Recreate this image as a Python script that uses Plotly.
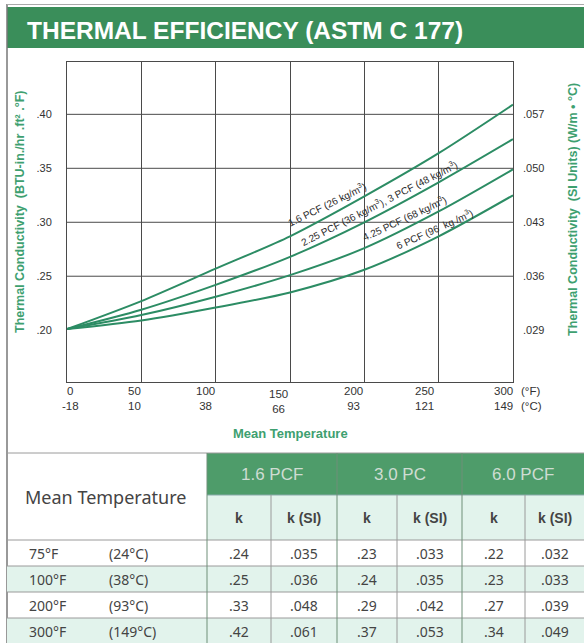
import plotly.graph_objects as go

# ---------------- data ----------------
temp_f = [0, 50, 100, 150, 200, 250, 300]
temp_c = [-18, 10, 38, 66, 93, 121, 149]
k_16 = [0.201, 0.227, 0.257, 0.287, 0.324, 0.364, 0.409]
k_225_3 = [0.201, 0.219, 0.242, 0.268, 0.300, 0.337, 0.377]
k_425 = [0.201, 0.214, 0.231, 0.251, 0.276, 0.310, 0.349]
k_6 = [0.201, 0.209, 0.221, 0.235, 0.256, 0.287, 0.325]

y_ticks = [0.20, 0.25, 0.30, 0.35, 0.40]
y_ticktext = [".20", ".25", ".30", ".35", ".40"]
y2_ticktext = [".029", ".036", ".043", ".050", ".057"]
grid_y = [0.25, 0.30, 0.35, 0.40]

curve_labels = ["1.6 PCF (26 kg/m<sup>3</sup>)",
                "2.25 PCF (36 kg/m<sup>3</sup>), 3 PCF (48 kg/m<sup>3</sup>)",
                "4.25 PCF (68 kg/m<sup>3</sup>)",
                "6 PCF (96  kg /m<sup>3</sup>)"]
label_x = [175, 210, 227, 247]
label_y = [0.317, 0.318, 0.3035, 0.294]
label_angle = [-26, -27, -25, -24]

# table data
tbl_groups = ["1.6 PCF", "3.0 PC", "6.0 PCF"]
tbl_sub = ["k", "k (SI)"]
rows_f = ["75°F", "100°F", "200°F", "300°F"]
rows_c = ["(24°C)", "(38°C)", "(93°C)", "(149°C)"]
k16 = [".24", ".25", ".33", ".42"]
k16_si = [".035", ".036", ".048", ".061"]
k30 = [".23", ".24", ".29", ".37"]
k30_si = [".033", ".035", ".042", ".053"]
k60 = [".22", ".23", ".27", ".34"]
k60_si = [".032", ".033", ".039", ".049"]
tbl_cols = [k16, k16_si, k30, k30_si, k60, k60_si]

# ---------------- styling ----------------
W, H = 584, 643
def px(x):
    return x / W
def py(y):
    return 1 - y / H

CURVE = "rgb(44,140,100)"
TITLE_GREEN = "rgb(58,142,90)"
HEAD_GREEN = "rgb(78,156,106)"
LIGHT_GREEN = "rgb(226,243,236)"
AXIS_GREEN = "rgb(62,160,112)"
GRID = "#4a4a4a"
TXT = "#333333"
SANS = "Liberation Sans, Arial, sans-serif"
NARROW = "Liberation Sans Narrow, Liberation Sans, Arial, sans-serif"
TSANS = "Noto Sans, Open Sans, sans-serif"

fig = go.Figure()
for ys in [k_16, k_225_3, k_425, k_6]:
    fig.add_trace(go.Scatter(x=temp_f, y=ys, mode="lines",
                             line=dict(color=CURVE, width=2, shape="spline", smoothing=0.8),
                             hoverinfo="skip", showlegend=False))
# invisible trace to activate right axis
fig.add_trace(go.Scatter(x=[temp_f[0]], y=[y_ticks[0]], yaxis="y2", mode="markers",
                         marker=dict(opacity=0), hoverinfo="skip", showlegend=False))

yr = [0.152, 0.4485]
fig.update_layout(
    width=W, height=H, margin=dict(l=0, r=0, t=0, b=0),
    paper_bgcolor="white", plot_bgcolor="white",
    xaxis=dict(domain=[px(67), px(513)], range=[0, 300], tickvals=temp_f,
               showticklabels=False, showgrid=True, gridcolor=GRID, gridwidth=1,
               showline=True, linecolor=GRID, linewidth=1, mirror=True,
               zeroline=False, ticks=""),
    yaxis=dict(domain=[py(382), py(62)], range=yr, tickvals=y_ticks, ticktext=y_ticktext,
               showgrid=False, showline=True, linecolor=GRID, linewidth=1, mirror=True,
               zeroline=False, ticks="", ticklabelstandoff=12,
               tickfont=dict(family=SANS, size=11, color=TXT)),
    yaxis2=dict(overlaying="y", side="right", range=yr, tickvals=y_ticks, ticktext=y2_ticktext,
                showgrid=False, showline=False, zeroline=False, ticks="", ticklabelstandoff=9,
                tickfont=dict(family=SANS, size=11, color=TXT)),
)

shapes = []
for g in grid_y:
    shapes.append(dict(type="line", xref="x", yref="y", x0=temp_f[0], x1=temp_f[-1], y0=g, y1=g,
                       line=dict(color=GRID, width=1), layer="below"))

# title bar & frame
shapes.append(dict(type="rect", xref="paper", yref="paper", x0=px(7), x1=px(584), y0=py(48), y1=py(7),
                   fillcolor=TITLE_GREEN, line=dict(width=0), layer="below"))
shapes.append(dict(type="line", xref="paper", yref="paper", x0=px(7), x1=px(7), y0=0, y1=py(4),
                   line=dict(color="#777", width=1.5)))
shapes.append(dict(type="line", xref="paper", yref="paper", x0=px(7), x1=px(584), y0=py(4.5), y1=py(4.5),
                   line=dict(color="#aaa", width=1)))

# table geometry
col_edges = [7, 207, 271, 337, 397, 462, 525, 584]
tbl_top, head1_bot, head2_bot = 453, 495, 540
row_edges = [540, 566, 592, 618, 644]

shapes.append(dict(type="rect", xref="paper", yref="paper", x0=px(col_edges[1]), x1=px(584),
                   y0=py(head1_bot), y1=py(tbl_top), fillcolor=HEAD_GREEN, line=dict(width=0)))
shapes.append(dict(type="rect", xref="paper", yref="paper", x0=px(col_edges[1]), x1=px(584),
                   y0=py(head2_bot), y1=py(head1_bot), fillcolor=LIGHT_GREEN, line=dict(width=0)))
for i in range(len(rows_f)):
    if i % 2 == 1:
        shapes.append(dict(type="rect", xref="paper", yref="paper", x0=px(7), x1=px(584),
                           y0=py(row_edges[i + 1]), y1=py(row_edges[i]), fillcolor=LIGHT_GREEN,
                           line=dict(width=0)))
LINE = dict(color="#9a9a9a", width=1)
for yv in [tbl_top] + row_edges[:-1]:
    shapes.append(dict(type="line", xref="paper", yref="paper", x0=px(7), x1=px(584),
                       y0=py(yv), y1=py(yv), line=LINE))
shapes.append(dict(type="line", xref="paper", yref="paper", x0=px(col_edges[1]), x1=px(584),
                   y0=py(head1_bot), y1=py(head1_bot), line=dict(color="#8aa", width=1)))
for j, xv in enumerate(col_edges[1:-1]):
    top = tbl_top if j % 2 == 0 else head1_bot
    color = "#6f8f78" if j % 2 == 0 else "#9a9a9a"
    shapes.append(dict(type="line", xref="paper", yref="paper", x0=px(xv), x1=px(xv),
                       y0=0, y1=py(top), line=dict(color=color, width=1)))
fig.update_layout(shapes=shapes)

ann = []
def A(text, x, y, xref="paper", yref="paper", xanchor="center", yanchor="middle", **kw):
    d = dict(text=text, x=x, y=y, xref=xref, yref=yref, xanchor=xanchor, yanchor=yanchor,
             showarrow=False)
    d.update(kw)
    ann.append(d)

A("THERMAL EFFICIENCY (ASTM C 177)", px(25), py(30), xanchor="left",
  font=dict(family=SANS, size=24.5, color="white", weight="bold"))

# x tick labels (°F over °C)
x_shift = [3, -7, -10, -12, -11, -14, -10]
y_drop = [0, 0, 0, 3, 0, 0, 0]
for f, c, s, d in zip(temp_f, temp_c, x_shift, y_drop):
    A(f"{f}<br>{c}", f, py(398 + d), xref="x", xshift=s, borderpad=0,
      font=dict(family=SANS, size=11.5, color=TXT))
A("(°F)<br>(°C)", px(520), py(398), xanchor="left", align="left", borderpad=0,
  font=dict(family=SANS, size=11.5, color=TXT))
A("Mean Temperature", px(290), py(433),
  font=dict(family=SANS, size=13, color=AXIS_GREEN, weight="bold"))
A("Thermal Conductivity  (BTU-in./hr .ft² .°F)", px(20), py(212), textangle=-90,
  font=dict(family=SANS, size=12.5, color=AXIS_GREEN, weight="bold"))
A("Thermal Conductivity  (SI Units) (W/m • °C)", px(573), py(210), textangle=-90,
  font=dict(family=SANS, size=12.5, color=AXIS_GREEN, weight="bold"))

# curve labels
for t, lx, ly, la in zip(curve_labels, label_x, label_y, label_angle):
    A(t, lx, ly, xref="x", yref="y", textangle=la, font=dict(family=NARROW, size=10, color="#2a2a2a"))

# table text
A("Mean Temperature", px(105), py(497), font=dict(family=TSANS, size=18, color="#444"))
for g, name in enumerate(tbl_groups):
    cx = (col_edges[1 + 2 * g] + col_edges[3 + 2 * g]) / 2
    A(name, px(cx), py(474), font=dict(family=SANS, size=17, color="#cfdcd3"))
    for s, sub in enumerate(tbl_sub):
        c = 1 + 2 * g + s
        sx = (col_edges[c] + col_edges[c + 1]) / 2
        A(sub, px(sx), py(518), font=dict(family=SANS, size=14, color="#444", weight="bold"))
for i in range(len(rows_f)):
    cy = (row_edges[i] + row_edges[i + 1]) / 2
    A(rows_f[i], px(27), py(cy), xanchor="left", font=dict(family=TSANS, size=14, color="#444"))
    A(rows_c[i], px(107), py(cy), xanchor="left", font=dict(family=TSANS, size=14, color="#444"))
    for c, col in enumerate(tbl_cols):
        sx = (col_edges[c + 1] + col_edges[c + 2]) / 2
        A(col[i], px(sx), py(cy), font=dict(family=TSANS, size=14, color="#444"))

fig.update_layout(annotations=ann)
fig.write_html("out.html", config={"displayModeBar": False},
               post_script="document.body.style.margin='0px';")
